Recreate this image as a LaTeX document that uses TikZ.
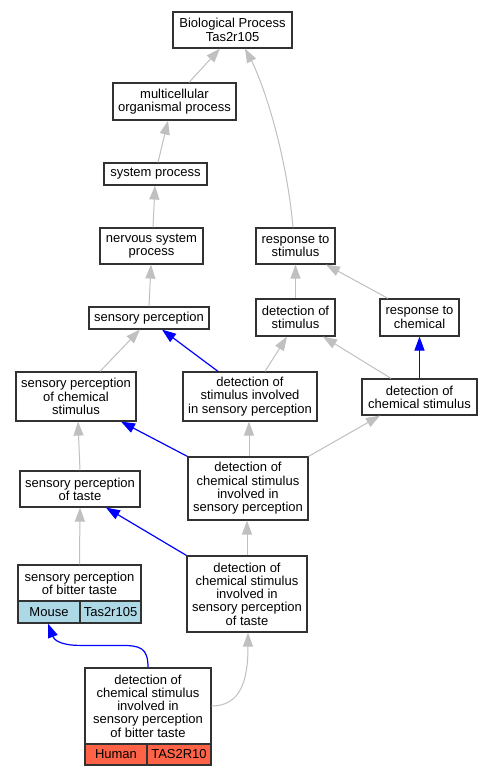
\documentclass[tikz,border=0pt]{standalone}
\usepackage{fontspec}
\setmainfont{Liberation Sans}
\usetikzlibrary{arrows.meta}
\definecolor{edgegray}{RGB}{192,192,192}
\definecolor{edgeblue}{RGB}{0,0,255}
\definecolor{mouseblue}{RGB}{173,216,230}
\definecolor{humanred}{RGB}{255,99,71}
\definecolor{boxline}{RGB}{50,50,50}
\tikzset{
  box/.style={draw=boxline, line width=1.2pt, fill=white, inner sep=0pt, align=center,
    font=\fontsize{13}{13.3}\selectfont},
  cell/.style={box, minimum height=22pt},
  isa/.style={draw=edgegray, line width=1pt, -{Triangle[length=14pt,width=10pt]}},
  blueedge/.style={draw=edgeblue, line width=1.2pt, -{Triangle[length=14pt,width=10pt]}},
}
\begin{document}
\begin{tikzpicture}[x=1pt,y=-1pt]
\fill[white] (0,0) rectangle (493,776);
\useasboundingbox (0,0) rectangle (493,776);

% nodes
\node[box, minimum width=119pt, minimum height=36pt] (bio) at (232.5,30) {Biological Process\\Tas2r105};
\node[box, minimum width=123pt, minimum height=37pt] (multi) at (174.5,101.5) {multicellular\\organismal process};
\node[box, minimum width=103pt, minimum height=22pt] (sys) at (155.5,174) {system process};
\node[box, minimum width=103pt, minimum height=36pt] (nerv) at (151.5,246) {nervous system\\process};
\node[box, minimum width=79pt, minimum height=36pt] (resp) at (295.5,246) {response to\\stimulus};
\node[box, minimum width=120pt, minimum height=22pt] (sens) at (149,318) {sensory perception};
\node[box, minimum width=79pt, minimum height=37pt] (detstim) at (295.5,317.5) {detection of\\stimulus};
\node[box, minimum width=79pt, minimum height=37pt] (respchem) at (419.5,317.5) {response to\\chemical};
\node[box, minimum width=120pt, minimum height=49pt] (spchem) at (76,396.5) {sensory perception\\of chemical\\stimulus};
\node[box, minimum width=134pt, minimum height=49pt] (detinv) at (250,396.5) {detection of\\stimulus involved\\in sensory perception};
\node[box, minimum width=115pt, minimum height=36pt] (detchem) at (419.5,397) {detection of\\chemical stimulus};
\node[box, minimum width=120pt, minimum height=63pt] (dcsisp) at (248,488.5) {detection of\\chemical stimulus\\involved in\\sensory perception};
\node[box, minimum width=120pt, minimum height=36pt] (sptaste) at (80,489) {sensory perception\\of taste};
\node[box, minimum width=120pt, minimum height=76pt] (dcstaste) at (247,594) {detection of\\chemical stimulus\\involved in\\sensory perception\\of taste};
\node[box, minimum width=123pt, minimum height=36pt] (bitter) at (79.5,583) {sensory perception\\of bitter taste};
\node[cell, fill=mouseblue, minimum width=62pt] (mouse) at (49,612) {Mouse};
\node[cell, fill=mouseblue, minimum width=61pt] (mgene) at (110.5,612) {Tas2r105};
\node[box, minimum width=126pt, minimum height=76pt] (dcsbitter) at (148,706) {detection of\\chemical stimulus\\involved in\\sensory perception\\of bitter taste};
\node[cell, fill=humanred, minimum width=62pt, minimum height=21pt] (human) at (116,754.5) {Human};
\node[cell, fill=humanred, minimum width=64pt, minimum height=21pt] (hgene) at (179,754.5) {TAS2R10};

% edges
\draw[isa] ([xshift=14.5pt]multi.north) -- ([xshift=-12.5pt]bio.south);
\draw[isa] ([xshift=-2.5pt]resp.north) .. controls +(-7,-78) and +(17,32) .. ([xshift=12.5pt]bio.south);
\draw[isa] ([xshift=2.5pt]sys.north) -- ([xshift=-6.5pt]multi.south);
\draw[isa] ([xshift=1.5pt]nerv.north) -- ([xshift=-0.5pt]sys.south);
\draw[isa] (sens.north) -- ([xshift=-0.5pt]nerv.south);
\draw[isa] (detstim.north) -- (resp.south);
\draw[isa] ([xshift=-31.5pt]respchem.north) -- ([xshift=30.5pt]resp.south);
\draw[isa] ([xshift=24pt]spchem.north) -- ([xshift=-9pt]sens.south);
\draw[blueedge] ([xshift=-32pt]detinv.north) -- ([xshift=13pt]sens.south);
\draw[isa] ([xshift=15pt]detinv.north) -- ([xshift=-8.5pt]detstim.south);
\draw[isa] ([xshift=-28.5pt]detchem.north) -- ([xshift=27.5pt]detstim.south);
\draw[blueedge] (detchem.north) -- (respchem.south);
\draw[blueedge] (dcsisp.north west) -- ([xshift=45pt]spchem.south);
\draw[isa] ([xshift=1pt]dcsisp.north) -- ([xshift=-1pt]detinv.south);
\draw[isa] (dcsisp.north east) -- ([xshift=-39.5pt]detchem.south);
\draw[isa] (sptaste.north) -- ([xshift=2pt]spchem.south);
\draw[blueedge] (dcstaste.north west) -- ([xshift=26pt]sptaste.south);
\draw[isa] (dcstaste.north) -- ([xshift=-1pt]dcsisp.south);
\draw[isa] (bitter.north) -- (sptaste.south);
\draw[blueedge] (dcsbitter.north) .. controls +(0,-20) and +(20,0) .. ++(-28,-22)
  -- ++(-40,0) .. controls +(-20,0) and +(6,16) .. ([xshift=-1pt]mouse.south);
\draw[isa] (dcsbitter.east) .. controls +(29,0) and +(0,48) .. ([xshift=1pt]dcstaste.south);
\end{tikzpicture}
\end{document}
